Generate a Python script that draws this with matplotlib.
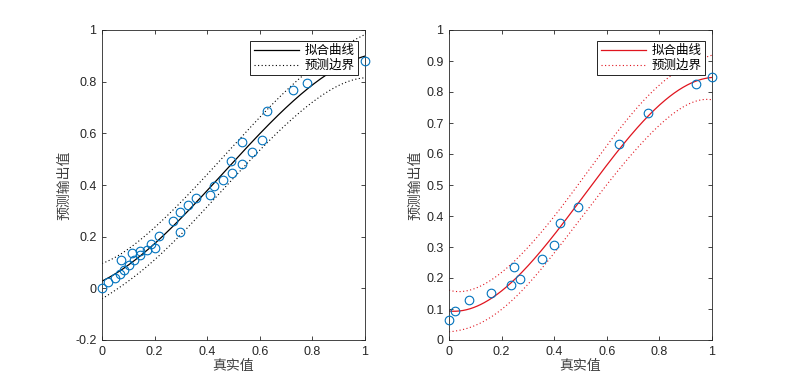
import numpy as np
import matplotlib
matplotlib.use("Agg")
import matplotlib.pyplot as plt

plt.rcParams['font.family'] = ['Liberation Sans', 'Noto Sans CJK SC', 'DejaVu Sans']

# ---- data ----
x_left = [0.0, 0.023, 0.048, 0.069, 0.071, 0.084, 0.103, 0.115, 0.121, 0.143, 0.143,
          0.171, 0.188, 0.203, 0.216, 0.269, 0.298, 0.298, 0.327, 0.359, 0.411, 0.425,
          0.461, 0.491, 0.495, 0.533, 0.534, 0.570, 0.609, 0.628, 0.728, 0.779, 1.0]
y_left = [0.0, 0.023, 0.039, 0.057, 0.110, 0.072, 0.092, 0.137, 0.110, 0.143, 0.128,
          0.148, 0.172, 0.156, 0.201, 0.262, 0.294, 0.219, 0.323, 0.348, 0.360, 0.395,
          0.421, 0.494, 0.446, 0.483, 0.566, 0.527, 0.573, 0.685, 0.766, 0.796, 0.880]

x_right = [0.0, 0.023, 0.076, 0.159, 0.236, 0.249, 0.270, 0.355, 0.400, 0.421, 0.490,
           0.645, 0.756, 0.938, 1.0]
y_right = [0.0645, 0.092, 0.130, 0.153, 0.176, 0.234, 0.197, 0.261, 0.308, 0.378, 0.429,
           0.633, 0.733, 0.826, 0.847]

legend_labels = ['拟合曲线', '预测边界']
xlabel_text = '真实值'
ylabel_text = '预测输出值'
t_left = 2.045    # t(0.975, 29)
t_right = 2.201   # t(0.975, 11)


def polyconf_fit(x, y, deg, tval, xs):
    x = np.asarray(x); y = np.asarray(y)
    X = np.vander(x, deg + 1)
    coef, *_ = np.linalg.lstsq(X, y, rcond=None)
    res = y - X @ coef
    n = len(x)
    s = np.sqrt(np.sum(res ** 2) / (n - deg - 1))
    XtXi = np.linalg.inv(X.T @ X)
    Xs = np.vander(xs, deg + 1)
    yf = Xs @ coef
    h = np.einsum('ij,jk,ik->i', Xs, XtXi, Xs)
    d = tval * s * np.sqrt(1 + h)
    return yf, d


fig = plt.figure(figsize=(7.87, 3.82), dpi=100)
axL = fig.add_axes([102 / 787, 1 - 340 / 382, 263 / 787, 310 / 382])
axR = fig.add_axes([449 / 787, 1 - 340 / 382, 263 / 787, 310 / 382])

xs = np.linspace(0, 1, 300)
circ = '#0072BD'
txt = '#262626'

for ax, xd, yd, tv, col, ylim, yticks in [
        (axL, x_left, y_left, t_left, 'black', (-0.2, 1), np.arange(-0.2, 1.01, 0.2)),
        (axR, x_right, y_right, t_right, '#E0141E', (0, 1), np.arange(0, 1.01, 0.1))]:
    yf, d = polyconf_fit(xd, yd, 3, tv, xs)
    ax.plot(xd, yd, 'o', mfc='none', mec=circ, ms=6.2, mew=0.8, zorder=3, clip_on=False)
    l1, = ax.plot(xs, yf, '-', color=col, lw=0.9)
    l2, = ax.plot(xs, yf + d, color=col, lw=0.8, ls=(0, (1, 2.2)))
    ax.plot(xs, yf - d, color=col, lw=0.8, ls=(0, (1, 2.2)))
    ax.set_xlim(0, 1)
    ax.set_ylim(*ylim)
    ax.set_xticks(np.arange(0, 1.01, 0.2))
    ax.set_xticklabels(['0', '0.2', '0.4', '0.6', '0.8', '1'])
    ax.set_yticks(yticks)
    ax.set_yticklabels([('%g' % round(v, 1)) for v in yticks])
    ax.tick_params(direction='in', length=3, width=0.6, top=True, right=True,
                   labelsize=9, colors=txt, pad=4)
    for sp in ax.spines.values():
        sp.set_linewidth(0.6)
        sp.set_color(txt)
    ax.set_xlabel(xlabel_text, fontsize=10, family=['Noto Sans CJK SC'], color='#404040', labelpad=1)
    ax.set_ylabel(ylabel_text, fontsize=10, family=['Noto Sans CJK SC'], color='#404040', labelpad=3)
    leg = ax.legend([l1, l2], legend_labels, loc='upper right',
                    bbox_to_anchor=(0.973, 0.9645), borderaxespad=0,
                    fancybox=False, edgecolor='black', framealpha=1, handlelength=3.6,
                    prop={'family': 'Noto Sans CJK SC', 'size': 9},
                    borderpad=0.25, labelspacing=0.15, handletextpad=0.5)
    leg.get_frame().set_linewidth(0.6)

fig.savefig('out.png', dpi=100)
